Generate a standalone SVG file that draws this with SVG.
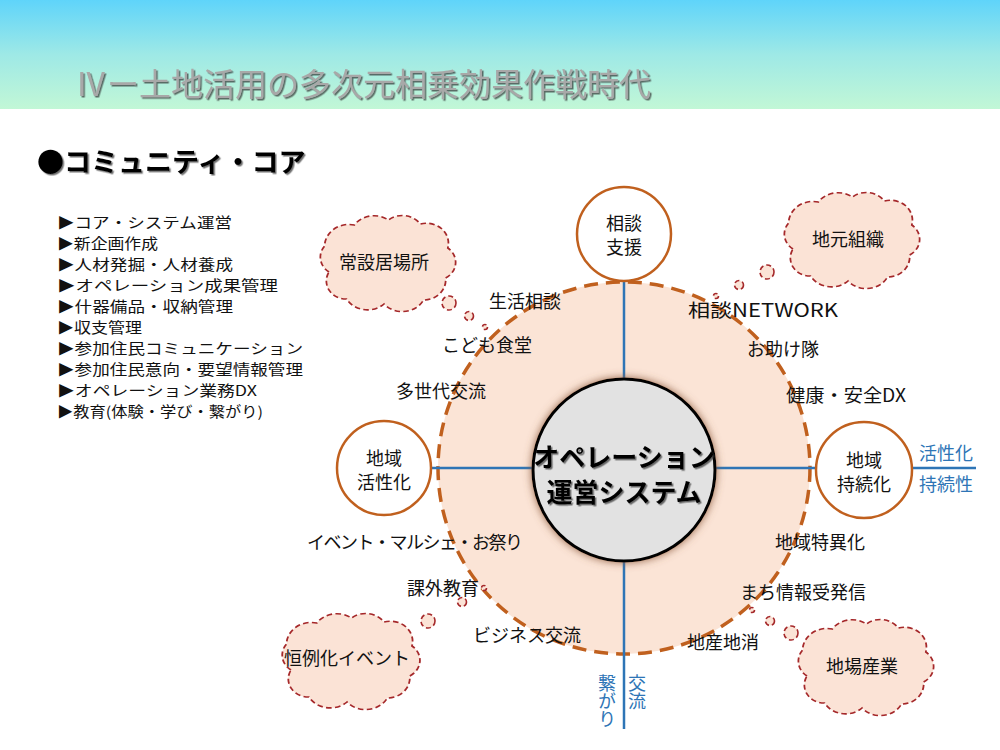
<svg xmlns="http://www.w3.org/2000/svg" width="1000" height="750" viewBox="0 0 1000 750">
<defs>
<linearGradient id="hdr" x1="0" y1="0" x2="0" y2="1">
<stop offset="0" stop-color="#5fd4fa"/>
<stop offset="0.5" stop-color="#9ee9e6"/>
<stop offset="1" stop-color="#c2f7d6"/>
</linearGradient>
<filter id="tsh" x="-5%" y="-20%" width="110%" height="140%">
<feDropShadow dx="1.5" dy="1.5" stdDeviation="0.6" flood-color="#333" flood-opacity="0.7"/>
</filter>
<filter id="glow" x="-20%" y="-20%" width="140%" height="140%">
<feDropShadow dx="0" dy="0" stdDeviation="4" flood-color="#8a5a3a" flood-opacity="0.9"/>
</filter>
<path id="cloud" d="M -50,10 A 18 18 0 0 1 -54,-16 A 22 22 0 0 1 -27,-37 A 22 22 0 0 1 4,-42 A 20 20 0 0 1 33,-38 A 20 20 0 0 1 58,-14 A 18 18 0 0 1 56,16 A 20 20 0 0 1 36,38 A 22 22 0 0 1 0,42 A 22 22 0 0 1 -34,37 A 18 18 0 0 1 -50,10 Z"/>
</defs>
<style>
.jp{font-family:"Noto Sans CJK JP","Noto Sans",sans-serif;}
.lbl{font-family:"Noto Sans CJK JP","Noto Sans",sans-serif;font-size:18px;fill:#111;}
.list{font-family:"Noto Sans CJK JP","Noto Sans",sans-serif;font-size:14.4px;fill:#111;}
.blue{font-family:"Noto Sans CJK JP","Noto Sans",sans-serif;font-size:18px;fill:#2e75b6;}
.cl{fill:#fbe3d6;stroke:#a5282a;stroke-width:1.6;stroke-dasharray:5 3;}
.node{fill:#fff;stroke:#c0601e;stroke-width:2.5;}
.axis{stroke:#2e75b6;stroke-width:2.5;fill:none;}
</style>
<rect x="0" y="0" width="1000" height="750" fill="#fff"/>
<rect x="0" y="0" width="1000" height="109" fill="url(#hdr)"/>
<text x="75" y="96" class="jp" font-size="32" fill="#a8a8a8" filter="url(#tsh)">Ⅳー土地活用の多次元相乗効果作戦時代</text>
<text x="37" y="172" class="jp" font-size="27" font-weight="bold" fill="#000" filter="url(#tsh)">●コミュニティ・コア</text>
<g id="list" class="list" lengthAdjust="spacingAndGlyphs">
<text x="57" y="228" textLength="175" lengthAdjust="spacingAndGlyphs">▶コア・システム運営</text>
<text x="57" y="249" textLength="101" lengthAdjust="spacingAndGlyphs">▶新企画作成</text>
<text x="57" y="270" textLength="176" lengthAdjust="spacingAndGlyphs">▶人材発掘・人材養成</text>
<text x="57" y="291" textLength="221" lengthAdjust="spacingAndGlyphs">▶オペレーション成果管理</text>
<text x="57" y="312" textLength="176" lengthAdjust="spacingAndGlyphs">▶什器備品・収納管理</text>
<text x="57" y="333" textLength="85" lengthAdjust="spacingAndGlyphs">▶収支管理</text>
<text x="57" y="354" textLength="246" lengthAdjust="spacingAndGlyphs">▶参加住民コミュニケーション</text>
<text x="57" y="375" textLength="246" lengthAdjust="spacingAndGlyphs">▶参加住民意向・要望情報管理</text>
<text x="57" y="396" textLength="200" lengthAdjust="spacingAndGlyphs">▶オペレーション業務DX</text>
<text x="57" y="417" textLength="206" lengthAdjust="spacingAndGlyphs">▶教育(体験・学び・繋がり)</text>
</g>
<g id="ring">
<circle cx="624" cy="468" r="186" fill="#fbe4d6" stroke="#c0601e" stroke-width="3.5" stroke-dasharray="14 8"/>
</g>
<g id="connectors">
<line class="axis" x1="624" y1="281" x2="624" y2="380"/>
<line class="axis" x1="624" y1="560" x2="624" y2="729"/>
<line class="axis" x1="431" y1="468" x2="532" y2="468"/>
<line class="axis" x1="716" y1="468" x2="816" y2="468"/>
<line class="axis" x1="911" y1="468" x2="976" y2="468"/>
</g>
<g id="center">
<circle cx="624" cy="470" r="91" fill="#e2e2e2" stroke="#000" stroke-width="3" filter="url(#glow)"/>
<text x="624" y="467" text-anchor="middle" class="jp" font-size="26" font-weight="bold" fill="#000" filter="url(#tsh)">オペレーション</text>
<text x="624" y="502" text-anchor="middle" class="jp" font-size="26" font-weight="bold" fill="#000" filter="url(#tsh)">運営システム</text>
</g>
<g id="node-top">
<circle class="node" cx="624" cy="234" r="47"/>
<text class="lbl" x="624" y="230" text-anchor="middle">相談</text>
<text class="lbl" x="624" y="254" text-anchor="middle">支援</text>
</g>
<g id="node-left">
<circle class="node" cx="384" cy="468" r="47"/>
<text class="lbl" x="384" y="465" text-anchor="middle">地域</text>
<text class="lbl" x="384" y="489" text-anchor="middle">活性化</text>
</g>
<g id="node-right">
<circle class="node" cx="864" cy="470" r="48"/>
<text class="lbl" x="864" y="467" text-anchor="middle">地域</text>
<text class="lbl" x="864" y="491" text-anchor="middle">持続化</text>
</g>
<g id="axis-labels">
<text class="blue" x="946" y="460" text-anchor="middle">活性化</text>
<text class="blue" x="946" y="491" text-anchor="middle">持続性</text>
<text class="blue" x="607" y="674" writing-mode="tb">繋がり</text>
<text class="blue" x="637" y="674" writing-mode="tb">交流</text>
</g>
<g id="items" class="lbl">
<text x="525" y="308" text-anchor="middle">生活相談</text>
<text x="487" y="352" text-anchor="middle">こども食堂</text>
<text x="441" y="398" text-anchor="middle">多世代交流</text>
<text x="688" y="317" textLength="150" lengthAdjust="spacingAndGlyphs">相談NETWORK</text>
<text x="783" y="356" text-anchor="middle">お助け隊</text>
<text x="786" y="402" textLength="120" lengthAdjust="spacingAndGlyphs">健康・安全DX</text>
<text x="307" y="549" textLength="216">イベント・マルシェ・お祭り</text>
<text x="443" y="595" text-anchor="middle">課外教育</text>
<text x="527" y="642" text-anchor="middle">ビジネス交流</text>
<text x="820" y="549" text-anchor="middle">地域特異化</text>
<text x="803" y="599" text-anchor="middle">まち情報受発信</text>
<text x="723" y="649" text-anchor="middle">地産地消</text>
</g>
<g id="cloud-joset">
<use href="#cloud" class="cl" transform="translate(384,262) scale(1.1,1.0)"/>
<circle class="cl" cx="449" cy="303" r="7"/>
<circle class="cl" cx="469" cy="316" r="4.5"/>
<circle class="cl" cx="485" cy="327" r="2.5"/>
<text class="lbl" x="384" y="269" text-anchor="middle">常設居場所</text>
</g>
<g id="cloud-jimoto">
<use href="#cloud" class="cl" transform="translate(848,239) scale(1.1,1.0)"/>
<circle class="cl" cx="767" cy="272" r="7"/>
<circle class="cl" cx="739" cy="285" r="4.5"/>
<circle class="cl" cx="716" cy="296" r="2.5"/>
<text class="lbl" x="848" y="246" text-anchor="middle">地元組織</text>
</g>
<g id="cloud-event">
<use href="#cloud" class="cl" transform="translate(347,660) scale(1.12,1.0)"/>
<circle class="cl" cx="428" cy="621" r="7"/>
<circle class="cl" cx="462" cy="602" r="4.5"/>
<circle class="cl" cx="484" cy="588" r="2.5"/>
<text class="lbl" x="347" y="665" text-anchor="middle">恒例化イベント</text>
</g>
<g id="cloud-jiba">
<use href="#cloud" class="cl" transform="translate(862,666) scale(1.1,1.0)"/>
<circle class="cl" cx="791" cy="633" r="7"/>
<circle class="cl" cx="770" cy="621" r="4.5"/>
<circle class="cl" cx="752" cy="610" r="2.5"/>
<text class="lbl" x="862" y="673" text-anchor="middle">地場産業</text>
</g>
</svg>
